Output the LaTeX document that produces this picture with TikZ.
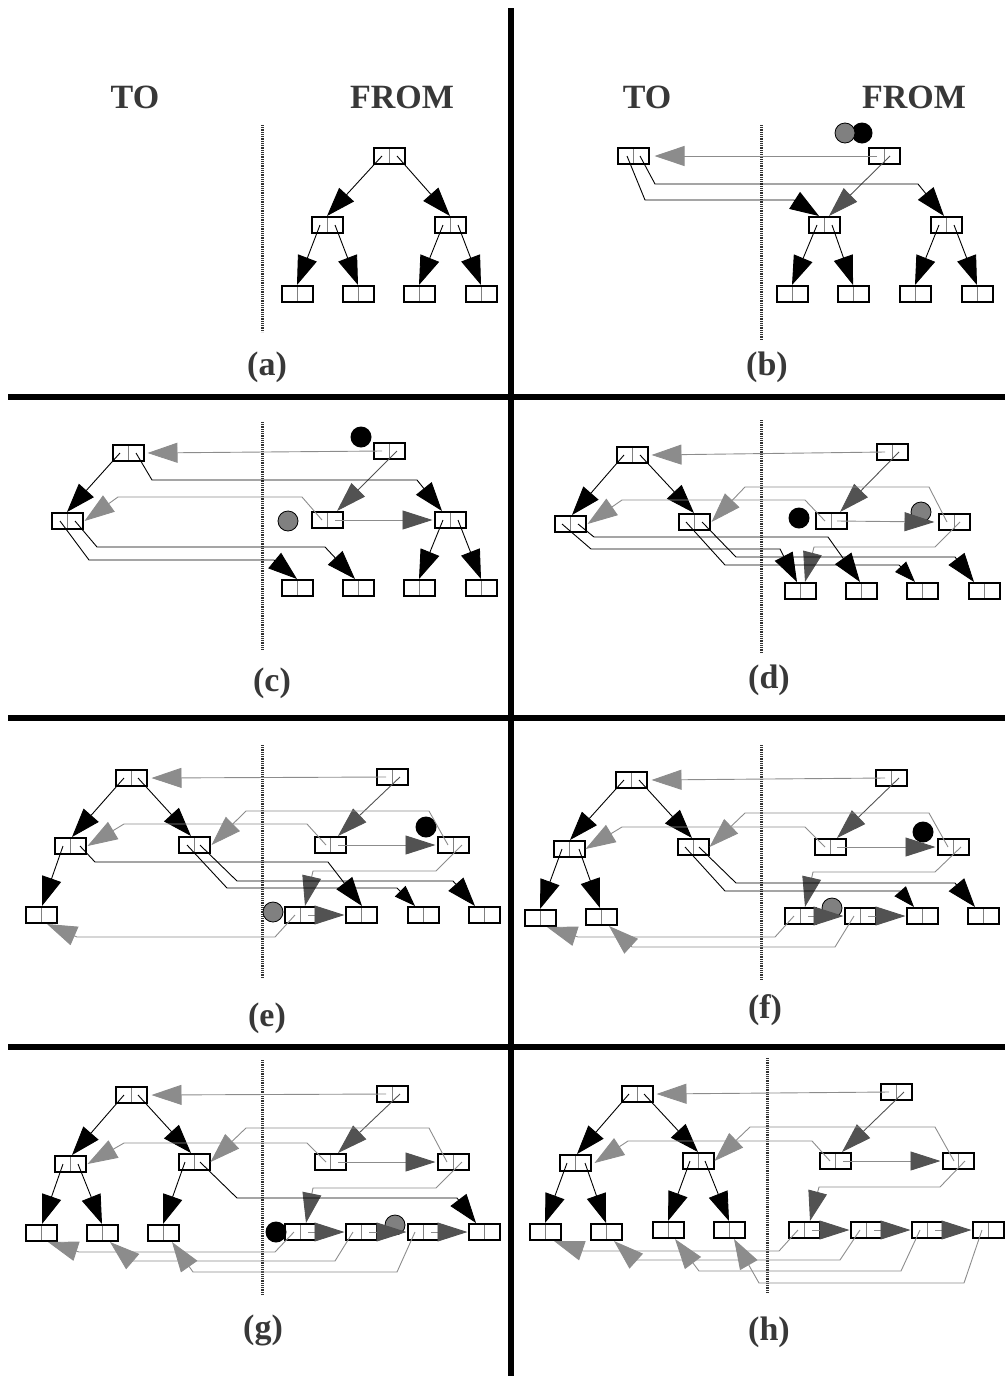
\documentclass[tikz,border=0pt]{standalone}
\usepackage{fontspec}
\setmainfont{Liberation Serif}
\usetikzlibrary{arrows.meta}
\definecolor{fwdgray}{gray}{0.55}
\definecolor{cpygray}{gray}{0.32}
\definecolor{txtgray}{gray}{0.22}

\begin{document}
\begin{tikzpicture}[x=1pt, y=-1pt,
  box/.style={draw, line width=2pt, fill=white, minimum width=31pt, minimum height=16pt, inner sep=0pt,
    path picture={\draw[gray, line width=0.9pt] (path picture bounding box.north) -- (path picture bounding box.south);}},
  lbl/.style={text=txtgray, font=\fontsize{34}{38}\selectfont\bfseries, inner sep=0pt},
  divider/.style={draw=black!80, line width=3pt, dash pattern=on 1pt off 0.8pt},
  treeptr/.style={line width=0.9pt, -{Triangle[length=29pt, width=20pt]}},
  shortptr/.style={line width=0.9pt, -{Triangle[length=21pt, width=15pt]}},
  fwdptr/.style={draw=fwdgray, line width=0.9pt, -{Triangle[length=30pt, width=20pt, color=fwdgray]}},
  cpyptr/.style={draw=cpygray, line width=0.9pt, -{Triangle[length=30pt, width=19pt, color=cpygray]}},
  mixptr/.style={draw=fwdgray, line width=0.9pt, -{Triangle[length=30pt, width=19pt, color=cpygray]}},
  scanptr/.style={circle, fill=black, minimum size=21pt, inner sep=0pt},
  freeptr/.style={circle, draw=black, fill=gray, line width=0.8pt, minimum size=20pt, inner sep=0pt}]
\useasboundingbox (0,0) rectangle (1005,1376);

% frame
\draw[line width=6pt] (511,8) -- (511,1376);
\draw[line width=6pt] (8,397) -- (1005,397);
\draw[line width=6pt] (8,718) -- (1005,718);
\draw[line width=6pt] (8,1047) -- (1005,1047);

%%%% (a)
\node[lbl] (a-to) at (135,97) {TO};
\node[lbl] (a-from) at (402,97) {FROM};
\node[lbl] (a-cap) at (267,367) {(a)};
\draw[divider] (262,125) -- (262,332);
\node[box] (af1) at (389,156) {};
\node[box] (af2) at (327,225) {};
\node[box] (af3) at (450,225) {};
\node[box] (af4) at (297,294) {};
\node[box] (af5) at (358,294) {};
\node[box] (af6) at (419,294) {};
\node[box] (af7) at (481,294) {};
\draw[treeptr] ([xshift=-7pt]af1.center) -- (af2.north);
\draw[treeptr] ([xshift=8pt]af1.center) -- (af3.north);
\draw[treeptr] ([xshift=-7pt]af2.center) -- (af4.north);
\draw[treeptr] ([xshift=8pt]af2.center) -- (af5.north);
\draw[treeptr] ([xshift=-7pt]af3.center) -- (af6.north);
\draw[treeptr] ([xshift=8pt]af3.center) -- (af7.north);

%%%% (b)
\node[lbl] (b-to) at (647,97) {TO};
\node[lbl] (b-from) at (914,97) {FROM};
\node[lbl] (b-cap) at (767,367) {(b)};
\draw[divider] (761,125) -- (761,340);
\node[box] (bt1) at (633,156) {};
\node[box] (bf1) at (884,156) {};
\node[box] (bf2) at (824,225) {};
\node[box] (bf3) at (946,225) {};
\node[box] (bf4) at (792,294) {};
\node[box] (bf5) at (853,294) {};
\node[box] (bf6) at (915,294) {};
\node[box] (bf7) at (977,294) {};
\node[scanptr] (bscan) at (862,133) {};
\node[freeptr] (bfree) at (845,133) {};
\draw[fwdptr] ([xshift=-7pt]bf1.center) -- ([xshift=5pt]bt1.east);
\draw[cpyptr] ([xshift=6pt]bf1.center) -- ([xshift=5pt]bf2.north);
\draw[treeptr] ([xshift=-6pt]bt1.center) -- (645,200) -- (794,200) -- ([xshift=-5pt]bf2.north);
\draw[treeptr] ([xshift=7pt]bt1.center) -- (655,184) -- (918,184) -- ([xshift=-2pt]bf3.north);
\draw[treeptr] ([xshift=-7pt]bf2.center) -- (bf4.north);
\draw[treeptr] ([xshift=8pt]bf2.center) -- (bf5.north);
\draw[treeptr] ([xshift=-7pt]bf3.center) -- (bf6.north);
\draw[treeptr] ([xshift=8pt]bf3.center) -- (bf7.north);

%%%% (c)
\node[lbl] (c-cap) at (272,683) {(c)};
\draw[divider] (262,422) -- (262,650);
\node[box] (ct1) at (128,453) {};
\node[box] (ct2) at (67,521) {};
\node[box] (cf1) at (389,451) {};
\node[box] (cf2) at (327,520) {};
\node[box] (cf3) at (450,520) {};
\node[box] (cf4) at (297,588) {};
\node[box] (cf5) at (358,588) {};
\node[box] (cf6) at (419,588) {};
\node[box] (cf7) at (481,588) {};
\node[scanptr] (cscan) at (361,437) {};
\node[freeptr] (cfree) at (288,521) {};
\draw[fwdptr] ([xshift=-7pt]cf1.center) -- ([xshift=3pt]ct1.east);
\draw[cpyptr] ([xshift=8pt]cf1.center) -- ([xshift=10pt]cf2.north);
\draw[treeptr] ([xshift=-8pt]ct1.center) -- (ct2.north);
\draw[treeptr] ([xshift=8pt]ct1.center) -- (152,480) -- (417,480) -- ([xshift=-8pt]cf3.north);
\draw[fwdptr] ([xshift=-5pt]cf2.center) -- (302,497) -- (118,497) -- ([xshift=1pt]ct2.east);
\draw[mixptr] ([xshift=8pt]cf2.center) -- ([xshift=-1pt]cf3.west);
\draw[treeptr] ([xshift=-7pt]ct2.center) -- (89,560) -- (274,560) -- (cf4.north);
\draw[treeptr] ([xshift=8pt]ct2.center) -- (97,547) -- (325,547) -- ([xshift=-3pt]cf5.north);
\draw[treeptr] ([xshift=-7pt]cf3.center) -- (cf6.north);
\draw[treeptr] ([xshift=8pt]cf3.center) -- (cf7.north);

%%%% (d)
\node[lbl] (d-cap) at (769,680) {(d)};
\draw[divider] (761,420) -- (761,653);
\node[box] (dt1) at (632,455) {};
\node[box] (dt2) at (570,524) {};
\node[box] (dt3) at (694,522) {};
\node[box] (df1) at (892,452) {};
\node[box] (df2) at (831,521) {};
\node[box] (df3) at (954,522) {};
\node[box] (df4) at (800,591) {};
\node[box] (df5) at (861,591) {};
\node[box] (df6) at (922,591) {};
\node[box] (df7) at (984,591) {};
\node[scanptr] (dscan) at (799,518) {};
\node[freeptr] (dfree) at (921,512) {};
\draw[fwdptr] ([xshift=-7pt]df1.center) -- ([xshift=3pt]dt1.east);
\draw[cpyptr] ([xshift=7pt]df1.center) -- ([xshift=9pt]df2.north);
\draw[treeptr] ([xshift=-8pt]dt1.center) -- ([xshift=2pt]dt2.north);
\draw[treeptr] ([xshift=8pt]dt1.center) -- (dt3.north);
\draw[fwdptr] ([xshift=-6pt]df2.center) -- (805,500) -- (622,500) -- ([xshift=1pt]dt2.east);
\draw[mixptr] ([xshift=6pt]df2.center) -- ([xshift=-3pt]df3.west);
\draw[fwdptr] ([xshift=-7pt]df3.center) -- (929,487) -- (745,487) -- ([xshift=1pt]dt3.east);
\draw[mixptr] ([xshift=6pt]df3.center) -- (935,547) -- (814,547) -- ([xshift=5pt]df4.north);
\draw[treeptr] ([xshift=-8pt]dt2.center) -- (591,549) -- (780,549) -- ([xshift=-3pt]df4.north);
\draw[treeptr] ([xshift=8pt]dt2.center) -- (594,537) -- (828,537) -- ([xshift=-1pt]df5.north);
\draw[shortptr] ([xshift=-8pt]dt3.center) -- (725,565) -- (899,565) -- ([xshift=-7pt]df6.north);
\draw[treeptr] ([xshift=8pt]dt3.center) -- (736,557) -- (955,557) -- ([xshift=-10pt]df7.north);

%%%% (e)
\node[lbl] (e-cap) at (267,1018) {(e)};
\draw[divider] (262,745) -- (262,978);
\node[box] (et1) at (131,778) {};
\node[box] (et2) at (70,846) {};
\node[box] (et3) at (194,845) {};
\node[box] (et4) at (41,915) {};
\node[box] (ef1) at (392,777) {};
\node[box] (ef2) at (330,845) {};
\node[box] (ef3) at (453,845) {};
\node[box] (ef4) at (300,915) {};
\node[box] (ef5) at (361,915) {};
\node[box] (ef6) at (423,915) {};
\node[box] (ef7) at (484,915) {};
\node[scanptr] (escan) at (426,827) {};
\node[freeptr] (efree) at (273,912) {};
\draw[fwdptr] ([xshift=-6pt]ef1.center) -- ([xshift=4pt]et1.east);
\draw[cpyptr] ([xshift=8pt]ef1.center) -- ([xshift=8pt]ef2.north);
\draw[treeptr] ([xshift=-7pt]et1.center) -- ([xshift=2pt]et2.north);
\draw[treeptr] ([xshift=7pt]et1.center) -- ([xshift=-3pt]et3.north);
\draw[fwdptr] ([xshift=-4pt]ef2.center) -- (307,824) -- (124,824) -- ([xshift=1pt]et2.east);
\draw[mixptr] ([xshift=8pt]ef2.center) -- ([xshift=-1pt]ef3.west);
\draw[fwdptr] ([xshift=-5pt]ef3.center) -- (429,811) -- (246,811) -- ([xshift=1pt]et3.east);
\draw[mixptr] ([xshift=9pt]ef3.center) -- (436,871) -- (313,871) -- ([xshift=5pt]ef4.north);
\draw[treeptr] ([xshift=-7pt]et2.center) -- ([xshift=1pt]et4.north);
\draw[treeptr] ([xshift=10pt]et2.center) -- (95,862) -- (328,862) -- ([xshift=1pt]ef5.north);
\draw[shortptr] ([xshift=-7pt]et3.center) -- (227,888) -- (397,888) -- ([xshift=-8pt]ef6.north);
\draw[treeptr] ([xshift=6pt]et3.center) -- (237,881) -- (453,881) -- ([xshift=-9pt]ef7.north);
\draw[mixptr] ([xshift=8pt]ef4.center) -- (ef5.west);
\draw[fwdptr] ([xshift=-5pt]ef4.center) -- (275,937) -- (77,937) -- ([xshift=6pt]et4.south);

%%%% (f)
\node[lbl] (f-cap) at (765,1010) {(f)};
\draw[divider] (761,745) -- (761,980);
\node[box] (ft1) at (631,780) {};
\node[box] (ft2) at (569,849) {};
\node[box] (ft3) at (693,847) {};
\node[box] (ft4) at (540,918) {};
\node[box] (ft5) at (601,917) {};
\node[box] (ff1) at (891,778) {};
\node[box] (ff2) at (830,847) {};
\node[box] (ff3) at (953,847) {};
\node[box] (ff4) at (800,916) {};
\node[box] (ff5) at (860,916) {};
\node[box] (ff6) at (922,916) {};
\node[box] (ff7) at (983,916) {};
\node[scanptr] (fscan) at (923,832) {};
\node[freeptr] (ffree) at (832,908) {};
\draw[fwdptr] ([xshift=-6pt]ff1.center) -- ([xshift=4pt]ft1.east);
\draw[cpyptr] ([xshift=8pt]ff1.center) -- ([xshift=7pt]ff2.north);
\draw[treeptr] ([xshift=-7pt]ft1.center) -- ([xshift=1pt]ft2.north);
\draw[treeptr] ([xshift=8pt]ft1.center) -- ([xshift=-1pt]ft3.north);
\draw[fwdptr] ([xshift=-5pt]ff2.center) -- (805,827) -- (622,827) -- (ft2.east);
\draw[mixptr] ([xshift=7pt]ff2.center) -- ([xshift=-1pt]ff3.west);
\draw[fwdptr] ([xshift=-5pt]ff3.center) -- (929,813) -- (745,813) -- (ft3.east);
\draw[mixptr] ([xshift=8pt]ff3.center) -- (935,872) -- (813,872) -- ([xshift=5pt]ff4.north);
\draw[treeptr] ([xshift=-7pt]ft2.center) -- (ft4.north);
\draw[treeptr] ([xshift=10pt]ft2.center) -- ([xshift=-1pt]ft5.north);
\draw[shortptr] ([xshift=-8pt]ft3.center) -- (725,891) -- (900,891) -- ([xshift=-8pt]ff6.north);
\draw[treeptr] ([xshift=6pt]ft3.center) -- (736,883) -- (955,883) -- ([xshift=-8pt]ff7.north);
\draw[mixptr] ([xshift=8pt]ff4.center) -- (ff5.west);
\draw[mixptr] ([xshift=8pt]ff5.center) -- (ff6.west);
\draw[fwdptr] ([xshift=-6pt]ff4.center) -- (775,937) -- (578,937) -- ([xshift=7pt]ft4.south);
\draw[fwdptr] ([xshift=-6pt]ff5.center) -- (835,947) -- (632,947) -- ([xshift=8pt]ft5.south);

%%%% (g)
\node[lbl] (g-cap) at (263,1330) {(g)};
\draw[divider] (262,1060) -- (262,1295);
\node[box] (gt1) at (131,1095) {};
\node[box] (gt2) at (70,1164) {};
\node[box] (gt3) at (194,1162) {};
\node[box] (gt4) at (41,1233) {};
\node[box] (gt5) at (102,1233) {};
\node[box] (gt6) at (163,1233) {};
\node[box] (gf1) at (392,1094) {};
\node[box] (gf2) at (330,1162) {};
\node[box] (gf3) at (453,1162) {};
\node[box] (gf4) at (300,1232) {};
\node[box] (gf5) at (361,1232) {};
\node[box] (gf6) at (423,1232) {};
\node[box] (gf7) at (484,1232) {};
\node[scanptr] (gscan) at (276,1232) {};
\node[freeptr] (gfree) at (395,1225) {};
\draw[fwdptr] ([xshift=-6pt]gf1.center) -- ([xshift=4pt]gt1.east);
\draw[cpyptr] ([xshift=8pt]gf1.center) -- ([xshift=8pt]gf2.north);
\draw[treeptr] ([xshift=-7pt]gt1.center) -- ([xshift=2pt]gt2.north);
\draw[treeptr] ([xshift=7pt]gt1.center) -- ([xshift=-3pt]gt3.north);
\draw[fwdptr] ([xshift=-4pt]gf2.center) -- (307,1143) -- (124,1143) -- ([xshift=1pt]gt2.east);
\draw[mixptr] ([xshift=8pt]gf2.center) -- ([xshift=-1pt]gf3.west);
\draw[fwdptr] ([xshift=-6pt]gf3.center) -- (429,1128) -- (246,1128) -- (gt3.east);
\draw[mixptr] ([xshift=9pt]gf3.center) -- (436,1188) -- (313,1188) -- ([xshift=6pt]gf4.north);
\draw[treeptr] ([xshift=-7pt]gt2.center) -- ([xshift=1pt]gt4.north);
\draw[treeptr] ([xshift=8pt]gt2.center) -- (gt5.north);
\draw[treeptr] ([xshift=-9pt]gt3.center) -- (gt6.north);
\draw[treeptr] ([xshift=6pt]gt3.center) -- (237,1198) -- (457,1198) -- ([xshift=-8pt]gf7.north);
\draw[mixptr] ([xshift=8pt]gf4.center) -- (gf5.west);
\draw[mixptr] ([xshift=8pt]gf5.center) -- (gf6.west);
\draw[mixptr] ([xshift=8pt]gf6.center) -- (gf7.west);
\draw[fwdptr] ([xshift=-6pt]gf4.center) -- (275,1252) -- (79,1252) -- ([xshift=7pt]gt4.south);
\draw[fwdptr] ([xshift=-8pt]gf5.center) -- (335,1261) -- (132,1261) -- ([xshift=8pt]gt5.south);
\draw[fwdptr] ([xshift=-8pt]gf6.center) -- (397,1272) -- (193,1272) -- ([xshift=9pt]gt6.south);

%%%% (h)
\node[lbl] (h-cap) at (769,1332) {(h)};
\draw[divider] (767,1058) -- (767,1293);
\node[box] (ht1) at (637,1094) {};
\node[box] (ht2) at (575,1163) {};
\node[box] (ht3) at (698,1161) {};
\node[box] (ht4) at (545,1232) {};
\node[box] (ht5) at (606,1232) {};
\node[box] (ht6) at (668,1230) {};
\node[box] (ht7) at (729,1230) {};
\node[box] (hf1) at (896,1092) {};
\node[box] (hf2) at (835,1161) {};
\node[box] (hf3) at (958,1161) {};
\node[box] (hf4) at (804,1230) {};
\node[box] (hf5) at (866,1230) {};
\node[box] (hf6) at (927,1230) {};
\node[box] (hf7) at (988,1230) {};
\draw[fwdptr] ([xshift=-7pt]hf1.center) -- ([xshift=3pt]ht1.east);
\draw[cpyptr] ([xshift=8pt]hf1.center) -- ([xshift=7pt]hf2.north);
\draw[treeptr] ([xshift=-8pt]ht1.center) -- ([xshift=2pt]ht2.north);
\draw[treeptr] ([xshift=7pt]ht1.center) -- (ht3.north);
\draw[fwdptr] ([xshift=-5pt]hf2.center) -- (812,1141) -- (628,1141) -- ([xshift=3pt]ht2.east);
\draw[mixptr] ([xshift=8pt]hf2.center) -- ([xshift=-1pt]hf3.west);
\draw[fwdptr] ([xshift=-4pt]hf3.center) -- (935,1127) -- (750,1127) -- (ht3.east);
\draw[mixptr] ([xshift=7pt]hf3.center) -- (940,1187) -- (819,1187) -- ([xshift=6pt]hf4.north);
\draw[treeptr] ([xshift=-8pt]ht2.center) -- (ht4.north);
\draw[treeptr] ([xshift=10pt]ht2.center) -- (ht5.north);
\draw[treeptr] ([xshift=-8pt]ht3.center) -- (ht6.north);
\draw[treeptr] ([xshift=7pt]ht3.center) -- (ht7.north);
\draw[mixptr] ([xshift=8pt]hf4.center) -- (hf5.west);
\draw[mixptr] ([xshift=8pt]hf5.center) -- (hf6.west);
\draw[mixptr] ([xshift=8pt]hf6.center) -- (hf7.west);
\draw[fwdptr] ([xshift=-6pt]hf4.center) -- (779,1251) -- (583,1251) -- ([xshift=9pt]ht4.south);
\draw[fwdptr] ([xshift=-6pt]hf5.center) -- (840,1260) -- (635,1260) -- ([xshift=8pt]ht5.south);
\draw[fwdptr] ([xshift=-7pt]hf6.center) -- (901,1271) -- (699,1271) -- ([xshift=7pt]ht6.south);
\draw[fwdptr] ([xshift=-6pt]hf7.center) -- (964,1283) -- (759,1283) -- ([xshift=5pt]ht7.south);
\end{tikzpicture}
\end{document}
